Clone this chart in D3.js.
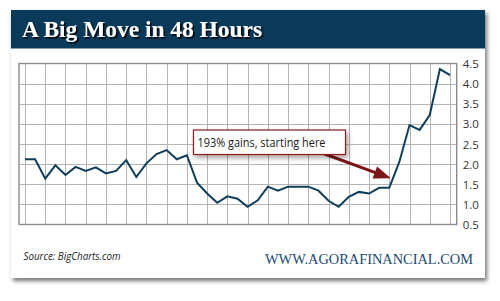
<!DOCTYPE html>
<html>
<head>
<meta charset="utf-8">
<script src="https://cdn.jsdelivr.net/npm/d3@7"></script>
<style>
  html, body { margin: 0; padding: 0; background: #fff; }
  svg { display: block; }
</style>
</head>
<body>
<svg id="chart" width="500" height="301"></svg>
<script>
const title = "A Big Move in 48 Hours";
const prices = [2.12,2.12,1.64,1.97,1.73,1.93,1.83,1.92,1.77,1.83,2.1,1.68,2.02,2.25,2.35,2.12,2.22,1.54,1.27,1.04,1.2,1.14,0.94,1.1,1.44,1.34,1.44,1.44,1.44,1.34,1.09,0.94,1.19,1.31,1.27,1.41,1.41,2.06,2.97,2.85,3.22,4.36,4.21];
const yTicks = [0.5,1.0,1.5,2.0,2.5,3.0,3.5,4.0,4.5];
const annotationText = "193% gains, starting here";
const annotationIndex = 36;
const sourceText = "Source: BigCharts.com";
const siteText = "WWW.AGORAFINANCIAL.COM";

(function() {
const svg = d3.select("#chart");
const defs = svg.append("defs");

const f1 = defs.append("filter").attr("id","cardShadow").attr("x","-5%").attr("y","-5%").attr("width","115%").attr("height","115%");
f1.append("feDropShadow").attr("dx",2).attr("dy",3).attr("stdDeviation",2.2).attr("flood-color","#000").attr("flood-opacity",0.55);

const f2 = defs.append("filter").attr("id","boxShadow").attr("x","-10%").attr("y","-30%").attr("width","130%").attr("height","190%");
f2.append("feDropShadow").attr("dx",2).attr("dy",3).attr("stdDeviation",2.5).attr("flood-color","#000").attr("flood-opacity",0.35);

const f3 = defs.append("filter").attr("id","textShadow").attr("x","-5%").attr("y","-20%").attr("width","110%").attr("height","150%");
f3.append("feDropShadow").attr("dx",1.6).attr("dy",1.6).attr("stdDeviation",0.5).attr("flood-color","#000").attr("flood-opacity",0.95);

// card
svg.append("rect").attr("x",11).attr("y",10).attr("width",474).attr("height",268)
  .attr("fill","#fff").attr("filter","url(#cardShadow)");
// title bar
svg.append("rect").attr("x",11).attr("y",10).attr("width",474).attr("height",38.5)
  .attr("fill","#0a3a5a");
svg.append("text").attr("x",22).attr("y",36.5)
  .attr("font-family","'Liberation Serif', 'DejaVu Serif', serif")
  .attr("font-weight","bold").attr("font-size",22.5)
  .attr("textLength",240).attr("lengthAdjust","spacingAndGlyphs")
  .attr("fill","#fff").attr("filter","url(#textShadow)")
  .text(title);

// plot
const pLeft = 19, pRight = 456.7, pTop = 63.5, pBottom = 224.5;
const x = d3.scaleLinear().domain([0, prices.length - 1]).range([25, 450]);
const y = d3.scaleLinear().domain([0.5, 4.5]).range([pBottom, pTop]);

const grid = svg.append("g");
grid.selectAll("line.h").data(yTicks.slice(1, -1)).join("line")
  .attr("x1",pLeft).attr("x2",pRight)
  .attr("y1",d=>Math.round(y(d))+0.5).attr("y2",d=>Math.round(y(d))+0.5)
  .attr("stroke","#b4b4b4").attr("stroke-width",1);
grid.selectAll("line.v").data(d3.range(0, prices.length, 2)).join("line")
  .attr("x1",d=>Math.round(x(d))+0.5).attr("x2",d=>Math.round(x(d))+0.5)
  .attr("y1",pTop).attr("y2",pBottom)
  .attr("stroke","#b4b4b4").attr("stroke-width",1);

svg.append("rect").attr("x",pLeft).attr("y",pTop).attr("width",pRight-pLeft).attr("height",pBottom-pTop)
  .attr("fill","none").attr("stroke","#8a8a8a").attr("stroke-width",1.4);

// y axis on right
const yAxis = d3.axisRight(y).tickValues(yTicks).tickFormat(d3.format(".1f")).tickSize(0).tickPadding(0);
const ag = svg.append("g").attr("transform",`translate(${pRight + 6},0)`).call(yAxis);
ag.select(".domain").remove();
ag.selectAll("text").attr("font-family","'Open Sans', 'Noto Sans', sans-serif")
  .attr("font-size",11.5).attr("fill","#333").attr("dy","0.35em");

// line
const line = d3.line().x((d,i)=>x(i)).y(d=>y(d));
svg.append("path").datum(prices).attr("d",line)
  .attr("fill","none").attr("stroke","#0f3d5c").attr("stroke-width",2)
  .attr("stroke-linejoin","miter");

// annotation arrow
const tipX = x(annotationIndex) + 1.5, tipY = y(prices[annotationIndex]) - 9.5;
const startX = 322, startY = 153;
const ang = Math.atan2(tipY - startY, tipX - startX);
const headLen = 17, headW = 6.5;
const bx = tipX - headLen*Math.cos(ang), by = tipY - headLen*Math.sin(ang);
svg.append("line").attr("x1",startX).attr("y1",startY).attr("x2",bx+2*Math.cos(ang)).attr("y2",by+2*Math.sin(ang))
  .attr("stroke","#7c1518").attr("stroke-width",3);
svg.append("path")
  .attr("d",`M${tipX},${tipY} L${bx - headW*Math.sin(ang)},${by + headW*Math.cos(ang)} L${bx + headW*Math.sin(ang)},${by - headW*Math.cos(ang)} Z`)
  .attr("fill","#7c1518");

// annotation box
svg.append("rect").attr("x",193.5).attr("y",130).attr("width",152).attr("height",24.5)
  .attr("fill","#fff").attr("stroke","#8b1c22").attr("stroke-width",1.2)
  .attr("filter","url(#boxShadow)");
svg.append("text").attr("x",197.5).attr("y",146.5)
  .attr("font-family","'Open Sans', 'Noto Sans', sans-serif").attr("font-size",12)
  .attr("textLength",128).attr("lengthAdjust","spacingAndGlyphs")
  .attr("fill","#1a1a1a").text(annotationText);

// footer
svg.append("text").attr("x",23.5).attr("y",260)
  .attr("font-family","'Open Sans', 'Noto Sans', sans-serif").attr("font-style","italic").attr("font-size",10.5)
  .attr("textLength",97).attr("lengthAdjust","spacingAndGlyphs")
  .attr("fill","#222").text(sourceText);
svg.append("text").attr("x",265).attr("y",263.5)
  .attr("font-family","'Liberation Serif', 'DejaVu Serif', serif").attr("font-size",15)
  .attr("textLength",208).attr("lengthAdjust","spacingAndGlyphs")
  .attr("fill","#1c4a72").text(siteText);
})();
</script>
</body>
</html>
